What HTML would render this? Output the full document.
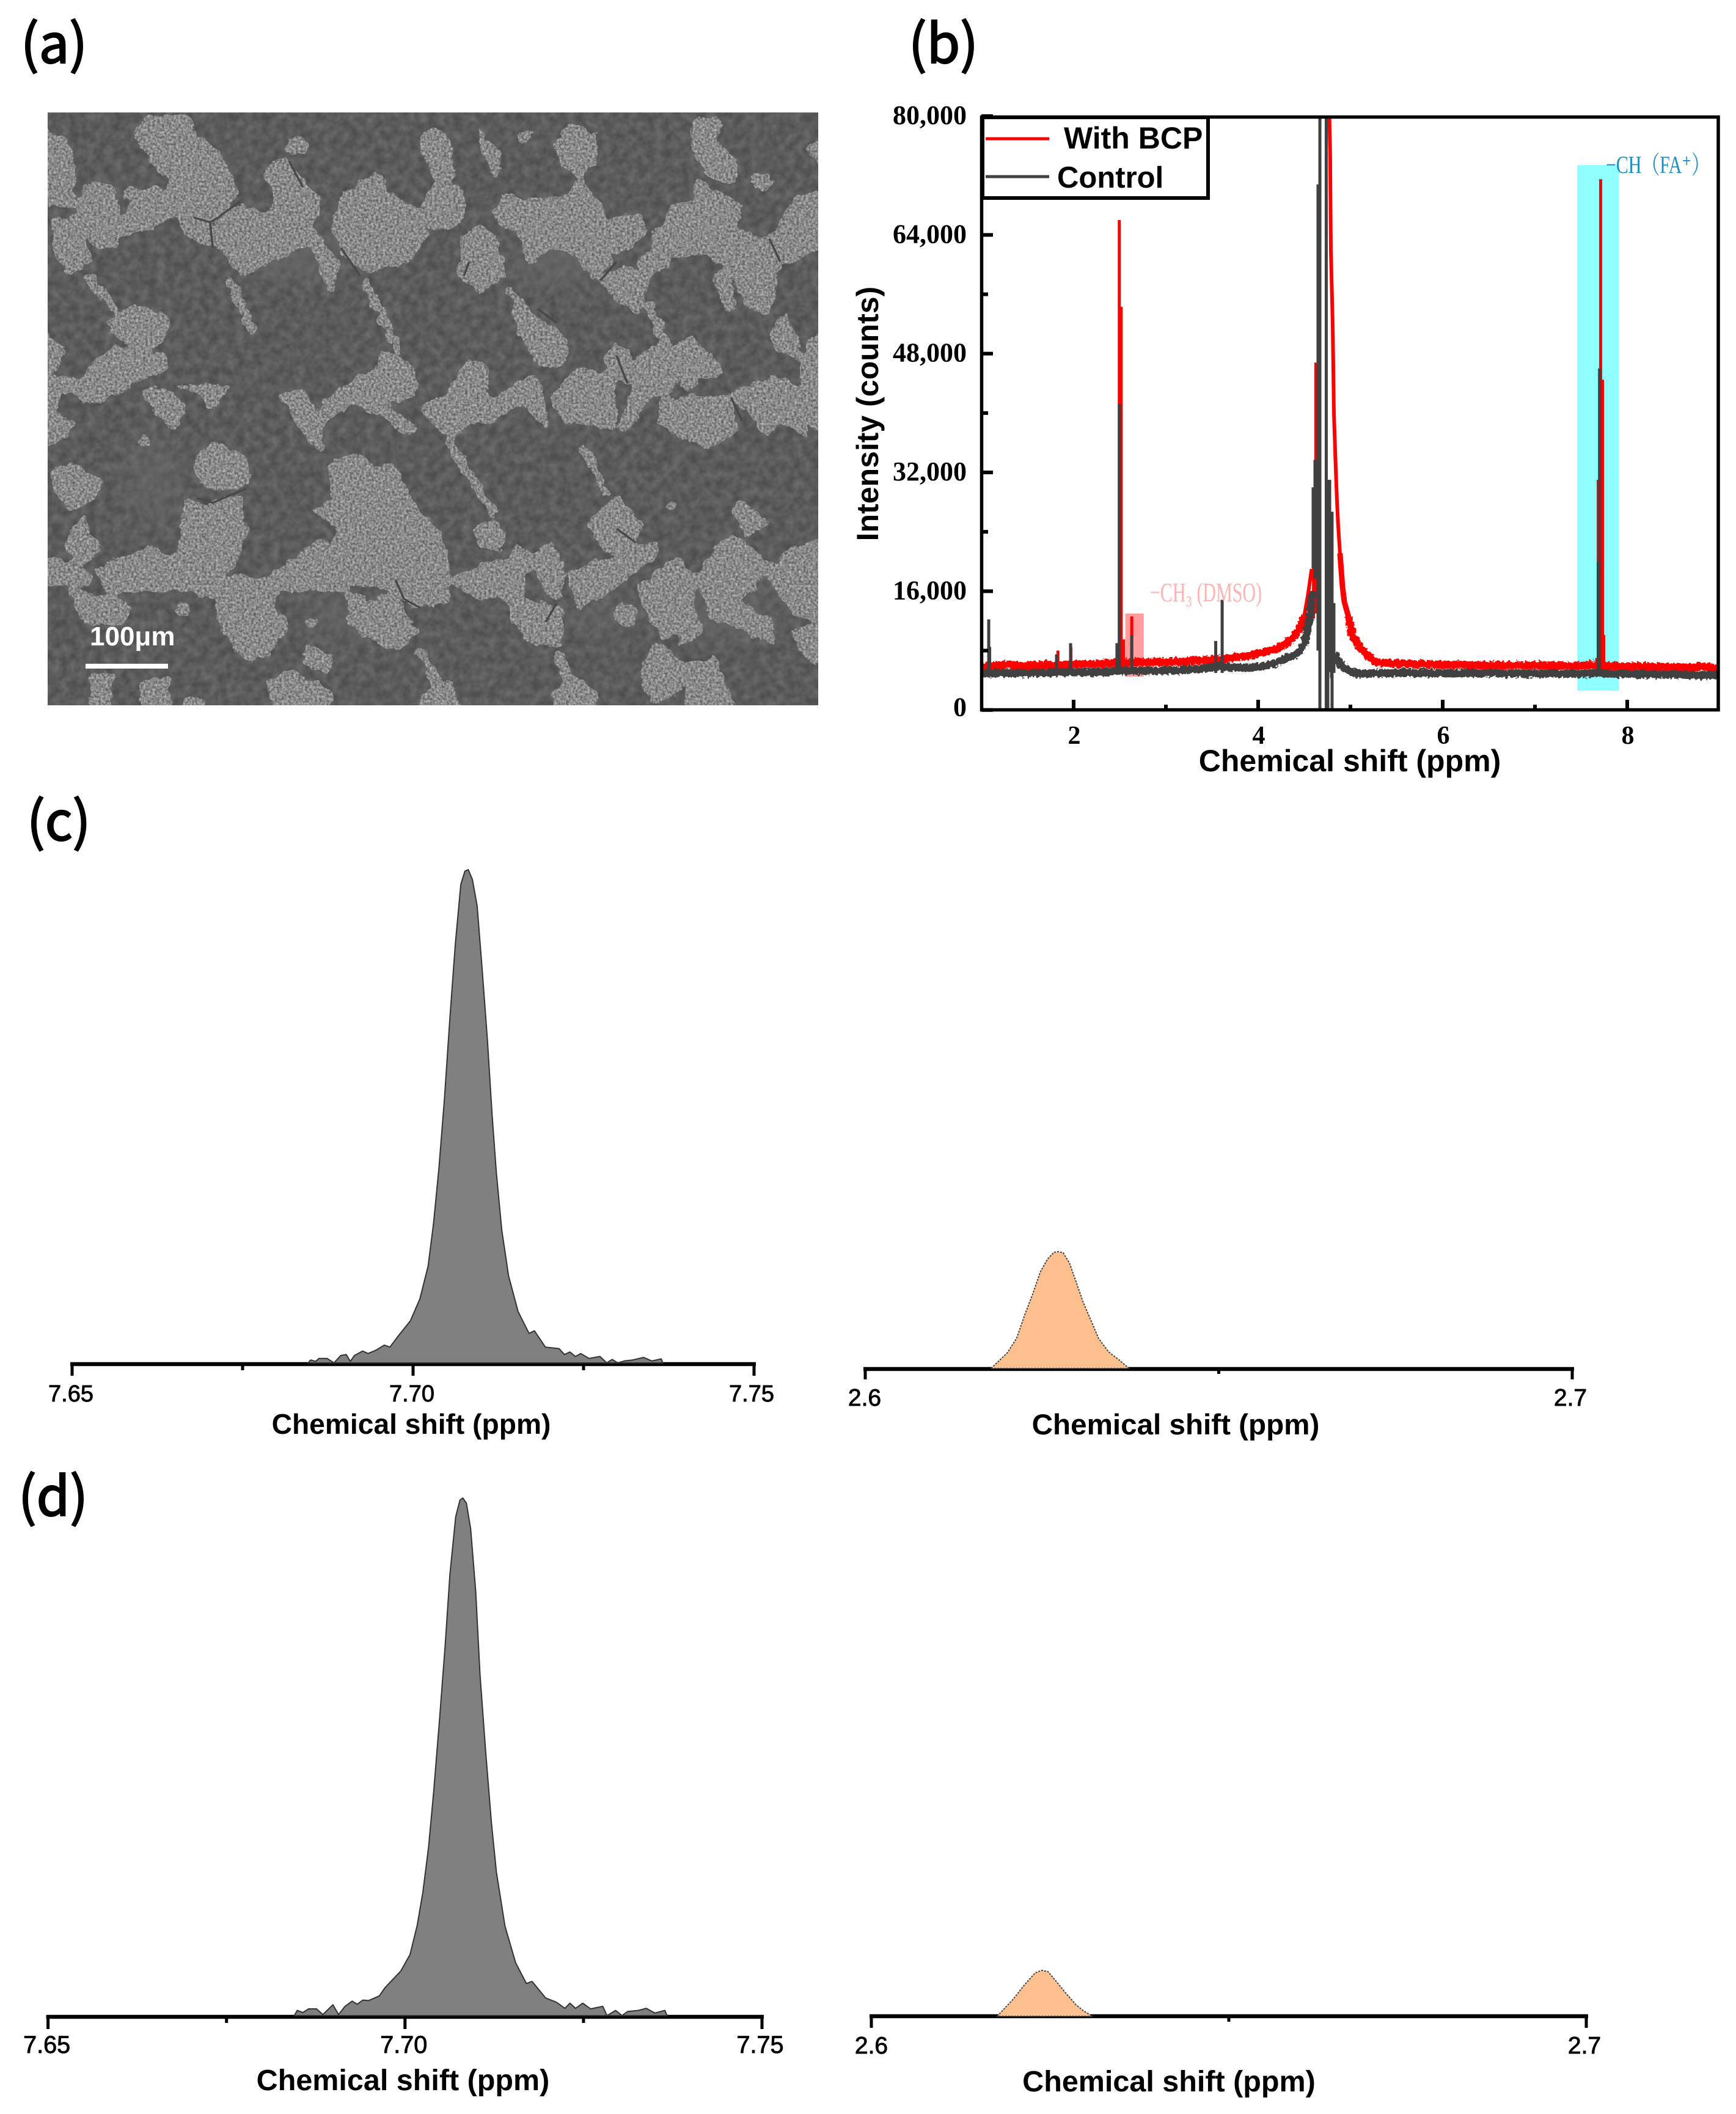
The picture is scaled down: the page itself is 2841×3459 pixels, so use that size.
<!DOCTYPE html>
<html lang="en">
<head>
<meta charset="utf-8">
<title>NMR spectra figure</title>
<style>
html,body{margin:0;padding:0;background:#fff;}
svg{display:block;}
text{font-family:"Liberation Sans",sans-serif;}
.panel-letter{font-family:"Noto Sans CJK SC","Liberation Sans",sans-serif;font-size:88px;fill:#000;stroke:#000;stroke-width:2.2px;}
</style>
</head>
<body>
<svg id="figure" xmlns="http://www.w3.org/2000/svg" width="2841" height="3459" viewBox="0 0 2841 3459">
<defs>
<clipPath id="sem-clip"><rect x="78" y="184" width="1261" height="970"/></clipPath>
<clipPath id="b-clip"><rect x="1606" y="191" width="1206" height="971"/></clipPath>
<filter id="grain-filter" filterUnits="userSpaceOnUse" x="40" y="150" width="1340" height="1040" color-interpolation-filters="sRGB">
<feGaussianBlur in="SourceGraphic" stdDeviation="5" result="b"/>
<feComponentTransfer in="b" result="goo"><feFuncA type="linear" slope="10" intercept="-4.5"/></feComponentTransfer>
<feTurbulence type="fractalNoise" baseFrequency="0.05" numOctaves="3" seed="5" result="warp"/>
<feDisplacementMap in="goo" in2="warp" scale="16" xChannelSelector="R" yChannelSelector="G" result="rough"/>
<feTurbulence type="fractalNoise" baseFrequency="0.26" numOctaves="2" seed="3"/>
<feColorMatrix type="matrix" values="1.3 0 0 0 -0.15 1.3 0 0 0 -0.15 1.3 0 0 0 -0.15 0 0 0 0 1" result="n0"/>
<feComposite in="n0" in2="rough" operator="in" result="n"/>
<feComposite in="rough" in2="n" operator="arithmetic" k1="0" k2="0.7" k3="0.45" k4="-0.07"/>
</filter>
<filter id="bg-filter" x="0" y="0" width="100%" height="100%" color-interpolation-filters="sRGB">
<feTurbulence type="fractalNoise" baseFrequency="0.07" numOctaves="3" seed="9"/>
<feColorMatrix type="matrix" values="1 0 0 0 -0.2 1 0 0 0 -0.2 1 0 0 0 -0.2 0 0 0 0 1" result="n"/>
<feComposite in="SourceGraphic" in2="n" operator="arithmetic" k1="0" k2="0.75" k3="0.18" k4="0.015"/>
</filter>
<filter id="soft-blur"><feGaussianBlur stdDeviation="30"/></filter>
<filter id="rough-band" filterUnits="userSpaceOnUse" x="1590" y="880" width="1240" height="280" color-interpolation-filters="sRGB">
<feTurbulence type="fractalNoise" baseFrequency="0.22" numOctaves="2" seed="11" result="w"/>
<feDisplacementMap in="SourceGraphic" in2="w" scale="9" xChannelSelector="R" yChannelSelector="G"/>
</filter>
</defs>

<rect x="0" y="0" width="2841" height="3459" fill="#ffffff"/>

<text class="panel-letter" x="34" y="103">(a)</text>
<text class="panel-letter" x="1487" y="103">(b)</text>
<text class="panel-letter" x="44" y="1375">(c)</text>
<text class="panel-letter" x="30" y="2480">(d)</text>

<g clip-path="url(#sem-clip)">
<rect x="78" y="184" width="1261" height="970" fill="#505050" filter="url(#bg-filter)"/>
<g transform="scale(0.8929,0.7653)" fill="#6a6a6a" filter="url(#soft-blur)" opacity="0.6">
<ellipse cx="540" cy="540" rx="100" ry="50"/><ellipse cx="1030" cy="560" rx="90" ry="50"/><ellipse cx="1330" cy="1310" rx="100" ry="50"/><ellipse cx="1100" cy="1310" rx="50" ry="40"/><ellipse cx="630" cy="1320" rx="60" ry="40"/><ellipse cx="280" cy="1020" rx="40" ry="100"/>
</g>
<g filter="url(#grain-filter)">
<g transform="scale(0.8929,0.7653)" fill="#8c8c8c" stroke="#8c8c8c" stroke-linejoin="round">
<path stroke-width="5" d="M245 290L270 250L350 250L360 290L330 320L315 380L290 370L270 330Z
M320 330L370 295L410 340L440 410L420 440L385 470L390 530L340 500L325 450L310 400Z
M140 440L165 385L205 400L225 470L210 530L180 535L150 480Z
M95 470L140 460L165 560L130 590L100 540Z
M80 270L120 300L135 350L135 440L80 440Z
M225 500L245 420L285 395L310 420L320 460L270 490Z
M485 370L520 335L550 380L590 430L570 480L620 570L605 630L570 520L500 560L440 590L395 520L400 470L440 440L490 460L510 430Z
M625 420L690 370L720 420L770 450L785 500L745 560L670 580L625 540L610 490Z
M770 290L795 270L825 300L830 385L800 380L775 330Z
M780 420L800 390L840 400L855 440L840 480L800 490L775 460Z
M875 270L915 330L915 385L890 340Z
M1018 300L1050 265L1095 290L1090 350L1060 375L1025 340Z
M905 450L930 405L960 440L950 490L915 490Z
M960 430L1040 420L1060 380L1100 440L1110 500L1120 560L1090 600L1050 540L1000 530L970 570L950 500Z
M850 500L880 480L910 510L925 590L880 625L840 590Z
M1110 470L1170 460L1185 500L1130 545Z
M1100 600L1140 570L1190 590L1170 670L1130 640Z
M1265 290L1280 250L1325 260L1310 300L1350 340L1350 390L1310 385L1280 350Z
M1275 380L1310 410L1360 440L1350 490L1420 520L1430 570L1410 670L1370 660L1340 570L1290 540L1240 550L1195 510L1240 430L1275 440Z
M1475 320L1510 295L1510 355Z
M1410 510L1460 420L1510 410L1510 530L1440 560Z
M1310 590L1330 570L1350 660L1330 665Z
M1410 720L1440 665L1475 780L1440 760Z
M1480 720L1510 710L1510 800L1480 790Z
M195 690L250 650L310 680L300 730L260 745L215 720Z
M180 770L210 740L300 755L310 790L260 810L200 810Z
M80 705L120 750L100 790L80 790Z
M135 830L170 780L225 800L240 830L180 860L150 860Z
M260 830L320 840L340 870L320 920L285 880Z
M80 820L110 840L100 880L80 880Z
M80 880L140 900L110 940L80 950Z
M320 820L420 825L390 880L360 840Z
M510 840L560 835L590 900L590 970L560 930Z
M620 830L690 790L700 750L760 790L760 850L700 860L770 920L750 930L690 880L640 860Z
M770 870L830 830L860 760L895 790L890 860L935 830L980 800L1000 880L1000 920L960 860L900 900L860 900L830 940L790 900Z
M1010 850L1060 790L1120 800L1130 860L1120 920L1060 900L1040 910Z
M1110 770L1130 730L1160 770L1150 820L1120 800Z
M1165 770L1200 740L1240 770L1240 830L1190 850L1150 920L1130 920L1160 840Z
M1230 740L1270 720L1330 800L1280 810L1260 840Z
M940 660L985 680L1040 730L1030 780L990 785L955 720Z
M1210 850L1340 850L1350 920L1300 960L1240 930L1210 900Z
M1340 840L1420 805L1470 830L1480 940L1440 900L1400 930L1370 880Z
M1470 780L1510 760L1510 930L1480 900Z
M355 980L390 945L450 980L460 1030L410 1050L370 1040Z
M340 1070L380 1080L440 1060L450 1150L430 1210L400 1230L350 1240L325 1190Z
M570 1090L610 1070L605 990L650 970L690 1000L720 990L760 1080L810 1150L820 1220L820 1290L760 1300L720 1260L650 1250L610 1200L620 1130Z
M115 1170L150 1100L185 1180L150 1210Z
M95 1010L130 990L190 1030L170 1070L130 1090L100 1050Z
M170 1215L280 1170L320 1190L400 1230L490 1240L530 1200L590 1150L640 1220L640 1270L560 1260L500 1270L440 1290L330 1260L200 1270Z
M80 1190L150 1210L170 1250L80 1250Z
M395 1290L440 1225L490 1260L525 1340L490 1400L450 1410L410 1360Z
M870 1130L900 1115L930 1140L920 1175L880 1170Z
M825 1240L900 1200L960 1180L960 1270L870 1280Z
M975 1190L1010 1160L1030 1200L1030 1280L1000 1270Z
M920 1270L1030 1300L1030 1380L980 1380L945 1340Z
M1075 1120L1130 1060L1175 1120L1160 1170L1110 1180Z
M1040 1220L1130 1190L1210 1150L1200 1190L1110 1270L1060 1300Z
M1340 1090L1360 1070L1410 1120L1370 1150Z
M1170 1250L1240 1190L1280 1240L1260 1320L1220 1370L1190 1320Z
M1280 1220L1340 1140L1420 1210L1350 1290L1420 1330L1420 1380L1370 1350L1300 1320Z
M1410 1240L1440 1180L1510 1150L1510 1330L1450 1310Z
M1450 1350L1510 1330L1510 1420L1470 1400Z
M1175 1420L1205 1375L1250 1420L1245 1480L1200 1500L1180 1470Z
M1255 1420L1310 1410L1345 1515L1260 1515Z
M1012 1480L1050 1445L1095 1480L1090 1515L1020 1515Z
M490 1460L530 1430L610 1480L600 1515L500 1515Z
M770 1480L830 1460L845 1515L770 1515Z
M655 1290L720 1270L765 1350L730 1390L680 1370Z
M260 1460L310 1450L310 1515L260 1515Z
M130 1260L240 1290L220 1340L150 1330Z
M590 860L640 825L660 850L620 880Z
M1170 560L1200 520L1230 560L1190 590Z
M80 800L140 810L130 840L80 835Z
M640 1270L680 1290L670 1360L640 1330Z
M1130 1290L1170 1300L1160 1340L1130 1330Z
M165 1440L205 1440L200 1515L170 1515Z
M340 1490L370 1495L370 1515L340 1515Z
M940 1170L975 1180L970 1220L940 1215Z
M1235 1310L1270 1300L1290 1350L1250 1380Z
M560 1380L610 1400L600 1440L560 1420Z"/>
<circle cx="240" cy="415" r="15"/><circle cx="545" cy="310" r="22"/><circle cx="960" cy="293" r="15"/><circle cx="1395" cy="388" r="20"/><circle cx="335" cy="1305" r="15"/><circle cx="570" cy="1330" r="12"/><circle cx="1230" cy="1080" r="10"/><circle cx="600" cy="885" r="16"/><circle cx="265" cy="945" r="12"/>
<g fill="none" stroke-width="17" stroke-linecap="round">
<polyline points="670,600 730,750"/><polyline points="420,600 465,710"/><polyline points="820,940 905,1100"/><polyline points="930,620 990,700"/><polyline points="1070,960 1110,1050"/><polyline points="1190,650 1220,740"/><polyline points="160,590 210,660"/><polyline points="770,1390 800,1460"/><polyline points="1020,1400 1040,1450"/>
</g>
</g>
</g>
<g transform="scale(0.8929,0.7653)" fill="none" stroke="#484848" stroke-width="4">
<polyline points="355,465 385,475 400,465 440,430"/><polyline points="385,475 390,530"/><polyline points="530,345 555,400"/><polyline points="625,530 660,590"/><polyline points="1410,510 1430,560"/><polyline points="1100,600 1130,560"/><polyline points="360,1065 390,1075 450,1045"/><polyline points="725,1240 740,1280 770,1300"/><polyline points="985,660 1020,690"/><polyline points="850,590 860,560"/><polyline points="1130,1130 1165,1160"/><polyline points="1020,1290 1000,1330"/><polyline points="1130,760 1150,820"/><polyline points="1340,850 1360,900"/>
</g>
<rect x="140" y="1086" width="135" height="8" fill="#ffffff"/>
<text x="147" y="1056" font-size="44" font-weight="bold" fill="#ffffff">100μm</text>
</g>

<g id="panel-b"></g>
<g id="panel-c-left"></g>
<g id="panel-c-right"></g>
<g id="panel-d-left"></g>
<g id="panel-d-right"></g>
</svg>

<script>
// ---------- Panel (b) data ----------
const bXMajorTicks = [2, 4, 6, 8];
const bXMinorTicks = [3, 5, 7];
const bYMajorTicks = [0, 16000, 32000, 48000, 64000, 80000];
const bYMinorTicks = [8000, 24000, 40000, 56000, 72000];
const bYTickLabels = ['0', '16,000', '32,000', '48,000', '64,000', '80,000'];

const redLeftPpm = [1.0,1.1,1.2,1.3,1.4,1.5,1.6,1.7,1.8,1.9,2.0,2.1,2.2,2.3,2.4,2.5,2.6,2.7,2.8,2.9,3.0,3.1,3.2,3.3,3.4,3.5,3.6,3.7,3.8,3.9,4.0,4.1,4.2,4.3,4.4,4.45,4.5];
const redLeftValues = [5700,5950,6000,6150,5900,6000,6050,6100,6000,6100,6150,6200,6150,6250,6300,6350,6400,6500,6400,6500,6450,6550,6500,6650,6700,6800,6850,7000,7150,7300,7600,7900,8200,8900,10000,11000,12700];
const redLeftWingPpm = [4.47,4.5,4.54,4.58];
const redLeftWingValues = [11600,12700,15500,19000];
const redWingPpm = [4.768,4.78,4.788,4.808,4.821,4.838,4.854,4.867,4.887,4.914];
const redWingValues = [82000,75000,61900,51800,39900,33700,28100,24900,21100,16600];
const redLowerWingPpm = [4.887,4.914,4.934,4.98,5.02];
const redLowerWingValues = [21100,16600,14570,12500,10000];
const redRightPpm = [4.98,5.02,5.1,5.15,5.26,5.4,5.5,5.6,5.7,5.8,5.9,6.0,6.1,6.2,6.3,6.4,6.5,6.6,6.7,6.8,6.9,7.0,7.1,7.2,7.3,7.4,7.5,7.6,7.7,7.8,7.9,8.0,8.1,8.2,8.3,8.4,8.5,8.6,8.7,8.8,8.9,9.0];
const redRightValues = [12500,10000,8500,7800,6500,6300,6250,6300,6150,6200,6100,6150,6050,6100,6000,6050,6000,6100,6000,6050,5950,6050,6000,5950,6000,5950,6000,6050,6100,5900,5950,5850,5900,5850,5800,5850,5750,5800,5700,5900,5700,5600];
const redSpikePpm = [1.83,1.97,2.47,2.495,2.515,2.54,2.63,4.6,4.625,7.67,7.686,7.712,7.732,7.745];
const redSpikeLow = [5000,5000,5000,5000,5000,5000,5000,12300,13000,5000,5000,5000,5000,5000];
const redSpikeHigh = [8000,8500,9000,66000,54300,9500,12600,19300,46800,7000,31000,71500,44500,10100];

const grayLeftPpm = [1.0,1.1,1.2,1.3,1.4,1.5,1.6,1.7,1.8,1.9,2.0,2.1,2.2,2.3,2.4,2.5,2.6,2.7,2.8,2.9,3.0,3.1,3.2,3.3,3.4,3.5,3.6,3.7,3.8,3.9,4.0,4.1,4.2,4.3,4.35,4.4,4.45,4.5,4.53,4.56,4.59];
const grayLeftValues = [5000,4900,5000,4950,5000,4950,5000,5000,5050,5100,5050,5100,5050,5150,5200,5300,5300,5250,5300,5250,5400,5300,5450,5500,5550,5800,5950,5700,5750,5700,5800,6000,6400,7000,7200,7400,8000,9000,10500,12500,16000];
const grayRightPpm = [4.83,4.87,4.91,4.97,5.05,5.15,5.3,5.4,5.5,5.6,5.7,5.8,5.9,6.0,6.1,6.2,6.3,6.4,6.5,6.6,6.7,6.8,6.9,7.0,7.1,7.2,7.3,7.4,7.5,7.6,7.7,7.8,7.9,8.0,8.1,8.2,8.3,8.4,8.5,8.6,8.7,8.8,8.9,9.0];
const grayRightValues = [7600,6600,5900,5400,5000,4850,5000,4950,5000,5050,4950,5000,4950,5000,4950,4950,5000,4900,4950,5000,4900,4950,4850,4950,4900,4950,4850,4900,4850,4950,5000,4850,4850,4900,4800,4850,4800,4750,4800,4750,4700,4650,4750,4700];
const graySpikePpm = [1.08,1.09,1.815,1.967,2.47,2.496,2.63,3.54,3.61,4.596,4.616,4.649,4.669,4.738,4.755,4.775,4.795,4.801,4.821,7.686,7.70];
const graySpikeLow = [4800,4800,5000,5000,5000,5000,5000,5000,5000,19100,17700,8000,0,0,0,5100,4300,0,5000,5000,5000];
const graySpikeHigh = [12200,8500,7500,9000,9000,41200,10100,9300,14850,30000,33700,70800,81000,81000,31000,31000,26700,26700,14400,19900,46000];

const cyanBandPpm = [7.46, 7.91];
const cyanBandValues = [2600, 73400];
const pinkBandPpm = [2.56, 2.76];
const pinkBandValues = [4500, 13000];

// ---------- Panel (c) data ----------
const cFaPpm = [7.6846,7.6850,7.6857,7.6862,7.6874,7.6884,7.6894,7.6902,7.6908,7.6914,7.6926,7.6934,7.6946,7.6958,7.6966,7.6978,7.6996,7.7010,7.7022,7.7030,7.7038,7.7046,7.7054,7.7062,7.7070,7.7076,7.7081,7.7087,7.7094,7.7101,7.7109,7.7116,7.7122,7.7130,7.7140,7.7154,7.7170,7.7178,7.7194,7.7214,7.7222,7.7230,7.7238,7.7246,7.7258,7.7274,7.7284,7.7292,7.7300,7.7310,7.7322,7.7338,7.7350,7.7364,7.7366];
const cFaValues = [0,.6,.3,.9,.9,0,1.5,1.7,.3,1.5,2.4,1.9,2.6,3.6,3.2,5.4,8.5,13,19.6,28.3,39.6,53.5,70,85,97,99.7,100,98,92.6,80.4,65.6,50,38.7,27,17.7,10.4,6,6.5,3.2,2.9,1.7,2.2,1.3,1.9,.9,1.3,0,.7,0,.4,.6,1.1,.4,.8,0];
const cFaTicks = [7.65, 7.70, 7.75];
const cFaMinorTicks = [7.675, 7.725];
const cFaTickLabels = ['7.65', '7.70', '7.75'];

const cDmsoPpm = [2.6178,2.6201,2.6214,2.6226,2.6237,2.6248,2.6258,2.6267,2.6273,2.6280,2.6289,2.6298,2.6308,2.6319,2.6330,2.6344,2.6359,2.6373];
const cDmsoValues = [0,13.4,25.7,46.6,64,83.2,93.7,99.5,100,99,90,74.5,57,41.4,25.7,14.3,7.3,0];
const cDmsoTicks = [2.6, 2.7];
const cDmsoMinorTicks = [2.65];
const cDmsoTickLabels = ['2.6', '2.7'];

// ---------- Panel (d) data ----------
const dFaPpm = [7.6845,7.6849,7.6857,7.6865,7.6876,7.6885,7.6899,7.6907,7.6916,7.6926,7.6933,7.6941,7.6949,7.6964,7.6972,7.6994,7.7007,7.7017,7.7025,7.7033,7.7040,7.7048,7.7056,7.7063,7.7071,7.7077,7.7081,7.7086,7.7092,7.7099,7.7105,7.7113,7.7121,7.7128,7.7140,7.7155,7.7170,7.7178,7.7197,7.7212,7.7224,7.7231,7.7239,7.7249,7.7260,7.7277,7.7283,7.7295,7.7304,7.7312,7.7327,7.7338,7.7350,7.7364,7.7367];
const dFaValues = [0,1,.6,1.3,1.3,.2,2.1,.2,1.8,2.8,2.2,3,2.9,3.8,5.4,8.6,11.8,17.4,23.8,32.6,43,56.6,71,85.4,96.4,99.6,100,99,94,82,66,51,37.3,27.7,17.3,10.2,6.2,6.6,3.4,2.6,1.4,2.4,1.4,2.4,1.3,1.8,0,1,0,.8,1,1.4,.5,1,0];
const dFaTicks = [7.65, 7.70, 7.75];
const dFaMinorTicks = [7.675, 7.725];
const dFaTickLabels = ['7.65', '7.70', '7.75'];

const dDmsoPpm = [2.6176,2.6197,2.6215,2.6229,2.6238,2.6247,2.6257,2.6271,2.6286,2.6296,2.6309];
const dDmsoValues = [0,13.6,27.5,37,39.3,38.2,31,20.4,10,4.9,0];
const dDmsoTicks = [2.6, 2.7];
const dDmsoMinorTicks = [2.65];
const dDmsoTickLabels = ['2.6', '2.7'];

// ---------- Helpers ----------
const NS = 'http://www.w3.org/2000/svg';
function make(tag, attrs, parent) {
  const e = document.createElementNS(NS, tag);
  for (const k in attrs) e.setAttribute(k, attrs[k]);
  parent.appendChild(e);
  return e;
}

// ---------- Panel (b) ----------
(function drawPanelB() {
  const g = document.getElementById('panel-b');
  const xB = p => 1757 + (p - 2) * 151;
  const yB = v => 1161.7 - v * 971.7 / 80000;
  const pts = (xs, ys) => xs.map((x, i) => xB(x).toFixed(1) + ',' + yB(ys[i]).toFixed(1)).join(' ');

  const cyan = make('rect', {x: xB(cyanBandPpm[0]), y: yB(cyanBandValues[1]), width: xB(cyanBandPpm[1]) - xB(cyanBandPpm[0]), height: yB(cyanBandValues[0]) - yB(cyanBandValues[1]), fill: '#8efeff'}, g);
  
  
  const pink = make('rect', {x: xB(pinkBandPpm[0]), y: yB(pinkBandValues[1]), width: xB(pinkBandPpm[1]) - xB(pinkBandPpm[0]), height: yB(pinkBandValues[0]) - yB(pinkBandValues[1]), fill: '#ff9c9c'}, g);
  
  

  const plot = make('g', {'clip-path': 'url(#b-clip)'}, g);
  
  

  const redA = make('polyline', {points: pts(redLeftPpm, redLeftValues), fill: 'none', stroke: '#ff0000', 'stroke-width': 13, 'stroke-linejoin': 'round', filter: 'url(#rough-band)'}, plot);
  
  
  const redA2 = make('polyline', {points: pts(redLeftWingPpm, redLeftWingValues), fill: 'none', stroke: '#ff0000', 'stroke-width': 6, 'stroke-linejoin': 'round'}, plot);
  
  
  const redB = make('polyline', {points: pts(redWingPpm, redWingValues), fill: 'none', stroke: '#ff0000', 'stroke-width': 6, 'stroke-linejoin': 'round'}, plot);
  
  
  const redB2 = make('polyline', {points: pts(redLowerWingPpm, redLowerWingValues), fill: 'none', stroke: '#ff0000', 'stroke-width': 9, 'stroke-linejoin': 'round'}, plot);
  
  
  const redC = make('polyline', {points: pts(redRightPpm, redRightValues), fill: 'none', stroke: '#ff0000', 'stroke-width': 13, 'stroke-linejoin': 'round', filter: 'url(#rough-band)'}, plot);
  
  
  redSpikePpm.forEach((p, i) => {
    const s = make('line', {x1: xB(p), x2: xB(p), y1: yB(redSpikeLow[i]), y2: yB(redSpikeHigh[i]), stroke: '#ff0000', 'stroke-width': 5}, plot);
    
    
  });

  const grayA = make('polyline', {points: pts(grayLeftPpm, grayLeftValues), fill: 'none', stroke: '#404040', 'stroke-width': 13, 'stroke-linejoin': 'round', filter: 'url(#rough-band)'}, plot);
  
  
  const grayB = make('polyline', {points: pts(grayRightPpm, grayRightValues), fill: 'none', stroke: '#404040', 'stroke-width': 13, 'stroke-linejoin': 'round', filter: 'url(#rough-band)'}, plot);
  
  
  graySpikePpm.forEach((p, i) => {
    const s = make('line', {x1: xB(p), x2: xB(p), y1: yB(graySpikeLow[i]), y2: yB(graySpikeHigh[i]), stroke: '#404040', 'stroke-width': 5}, plot);
    
    
  });

  const frame = make('rect', {x: 1606.5, y: 191.5, width: 1205.5, height: 970, fill: 'none', stroke: '#000', 'stroke-width': 5.5}, g);
  
  

  bXMajorTicks.forEach(t => {
    const tick = make('line', {x1: xB(t), x2: xB(t), y1: 1161, y2: 1145, stroke: '#000', 'stroke-width': 6}, g);
    
    
    const lab = make('text', {x: xB(t) + 1, y: 1217, 'text-anchor': 'middle', 'font-size': 42, 'font-weight': 'bold', style: 'font-family:"Liberation Serif",serif'}, g);
    
    
    lab.textContent = String(t);
  });
  bXMinorTicks.forEach(t => {
    const tick = make('line', {x1: xB(t), x2: xB(t), y1: 1161, y2: 1153, stroke: '#000', 'stroke-width': 6}, g);
    
    
  });
  bYMajorTicks.forEach((t, i) => {
    const tick = make('line', {x1: 1606, x2: 1625, y1: yB(t), y2: yB(t), stroke: '#000', 'stroke-width': 6}, g);
    
    
    const lab = make('text', {x: 1582, y: yB(t) + (t === 0 ? 10 : 13), 'text-anchor': 'end', 'font-size': 44, 'font-weight': 'bold', style: 'font-family:"Liberation Serif",serif'}, g);
    
    
    lab.textContent = bYTickLabels[i];
  });
  bYMinorTicks.forEach(t => {
    const tick = make('line', {x1: 1606, x2: 1617, y1: yB(t), y2: yB(t), stroke: '#000', 'stroke-width': 6}, g);
    
    
  });

  const yTitle = make('text', {transform: 'translate(1437,677) rotate(-90)', 'text-anchor': 'middle', 'font-size': 50, 'font-weight': 'bold'}, g);
  
  
  yTitle.textContent = 'Intensity (counts)';
  const xTitle = make('text', {x: 2209, y: 1262, 'text-anchor': 'middle', 'font-size': 50, 'font-weight': 'bold'}, g);
  
  
  xTitle.textContent = 'Chemical shift (ppm)';

  const dmso = make('text', {x: 1882, y: 984, 'font-size': 44, fill: '#ffb3b3', textLength: 183, lengthAdjust: 'spacingAndGlyphs', style: 'font-family:"Liberation Serif",serif'}, g);
  
  
  dmso.textContent = '\u2212CH\u2083 (DMSO)';
  const fa = make('text', {x: 2628, y: 283, 'font-size': 40, fill: '#1a8fc4', textLength: 170, lengthAdjust: 'spacingAndGlyphs', style: 'font-family:"Liberation Serif","Noto Serif CJK SC",serif'}, g);
  
  
  fa.textContent = '\u2212CH\uFF08FA\u207A\uFF09';

  const legend = make('g', {}, g);
  
  
  const box = make('rect', {x: 1608, y: 192, width: 369, height: 132, fill: '#fff', stroke: '#000', 'stroke-width': 6}, legend);
  
  
  const k1 = make('line', {x1: 1613, x2: 1717, y1: 227, y2: 227, stroke: '#ff0000', 'stroke-width': 5}, legend);
  
  
  const t1 = make('text', {x: 1741, y: 243, 'font-size': 50, 'font-weight': 'bold'}, legend);
  
  
  t1.textContent = 'With BCP';
  const k2 = make('line', {x1: 1613, x2: 1717, y1: 289, y2: 289, stroke: '#404040', 'stroke-width': 5}, legend);
  
  
  const t2 = make('text', {x: 1730, y: 307, 'font-size': 49, 'font-weight': 'bold'}, legend);
  
  
  t2.textContent = 'Control';
})();

// ---------- Peak panels (c, d) ----------
function drawPeakPanel(id, ppm, vals, ticks, minors, labels, geo) {
  const g = document.getElementById(id);
  const xS = p => geo.x0 + (p - ticks[0]) * (geo.x1 - geo.x0) / (ticks[ticks.length - 1] - ticks[0]);
  const yS = v => geo.base - v * geo.unit;

  const axis = make('line', {x1: geo.x0 - 3, x2: geo.x1 + 3, y1: geo.axisY, y2: geo.axisY, stroke: '#000', 'stroke-width': 6.5}, g);
  
  
  ticks.forEach((t, i) => {
    const tick = make('line', {x1: xS(t), x2: xS(t), y1: geo.axisY, y2: geo.axisY + geo.majorLen, stroke: '#000', 'stroke-width': 5}, g);
    
    
    const lab = make('text', {x: xS(t) + geo.labelDx[i], y: geo.labelY, 'text-anchor': 'middle', 'font-size': geo.labelSize, stroke: '#000', 'stroke-width': 0.9}, g);
    
    
    lab.textContent = labels[i];
  });
  minors.forEach(t => {
    const tick = make('line', {x1: xS(t), x2: xS(t), y1: geo.axisY, y2: geo.axisY + geo.minorLen, stroke: '#000', 'stroke-width': 5}, g);
    
    
  });

  const d = 'M' + ppm.map((p, i) => xS(p).toFixed(1) + ' ' + yS(vals[i]).toFixed(1)).join('L') + 'Z';
  const area = make('path', {d: d, fill: geo.fill, stroke: geo.stroke, 'stroke-width': 2, 'stroke-dasharray': geo.dash, 'stroke-linejoin': 'round'}, g);
  
  

  const title = make('text', {x: geo.titleX, y: geo.titleY, 'text-anchor': 'middle', 'font-size': geo.titleSize, 'font-weight': 'bold'}, g);
  
  
  title.textContent = 'Chemical shift (ppm)';
}

drawPeakPanel('panel-c-left', cFaPpm, cFaValues, cFaTicks, cFaMinorTicks, cFaTickLabels,
  {x0: 118, x1: 1234, base: 2230, unit: 8.07, axisY: 2232, majorLen: 19, minorLen: 10, labelY: 2293, labelSize: 38, labelDx: [-2, -2, -4], titleX: 673, titleY: 2346, titleSize: 46.2, fill: '#808080', stroke: '#333333', dash: 'none'});
drawPeakPanel('panel-c-right', cDmsoPpm, cDmsoValues, cDmsoTicks, cDmsoMinorTicks, cDmsoTickLabels,
  {x0: 1416, x1: 2573, base: 2239, unit: 1.91, axisY: 2240, majorLen: 17, minorLen: 8, labelY: 2300, labelSize: 39, labelDx: [-1, -3], titleX: 1924, titleY: 2347, titleSize: 47.6, fill: '#fcc08f', stroke: '#444444', dash: '3 2'});
drawPeakPanel('panel-d-left', dFaPpm, dFaValues, dFaTicks, dFaMinorTicks, dFaTickLabels,
  {x0: 78.6, x1: 1247, base: 3298, unit: 8.47, axisY: 3300, majorLen: 20, minorLen: 10, labelY: 3359, labelSize: 39.6, labelDx: [-2, -2, -3], titleX: 659.5, titleY: 3420, titleSize: 48.5, fill: '#808080', stroke: '#333333', dash: 'none'});
drawPeakPanel('panel-d-right', dDmsoPpm, dDmsoValues, dDmsoTicks, dDmsoMinorTicks, dDmsoTickLabels,
  {x0: 1426, x1: 2596, base: 3299, unit: 1.91, axisY: 3299, majorLen: 19, minorLen: 9, labelY: 3360, labelSize: 39, labelDx: [0, -3], titleX: 1913, titleY: 3422, titleSize: 48.5, fill: '#fcc08f', stroke: '#444444', dash: '3 2'});
</script>
</body>
</html>
